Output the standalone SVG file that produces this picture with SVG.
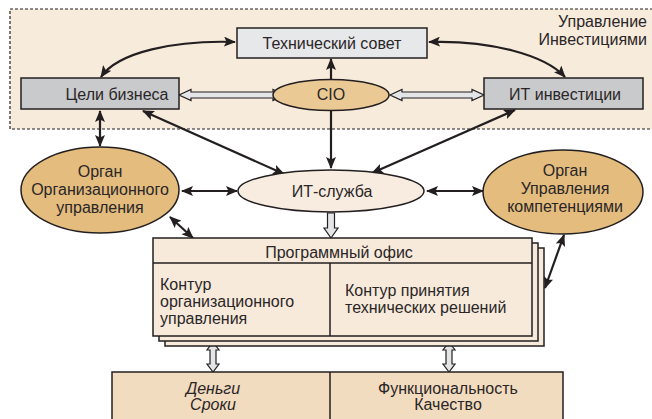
<svg xmlns="http://www.w3.org/2000/svg" width="652" height="419" viewBox="0 0 652 419">
<defs>
<style>
text{font-family:"Liberation Sans",Arial,sans-serif;font-size:16px;fill:#2a2627}
.c{text-anchor:middle}
.ln{fill:none;stroke:#231f20;stroke-width:2.2}
.ho{fill:#e4e5e7;stroke:#231f20;stroke-width:1.2;stroke-linejoin:miter}
.bx{stroke:#231f20;stroke-width:1.5}
</style>
<marker id="ah" viewBox="0 0 12 10" refX="11" refY="5" markerWidth="12" markerHeight="10" markerUnits="userSpaceOnUse" orient="auto-start-reverse">
<path d="M0,0 L12,5 L0,10 L2.5,5 z" fill="#231f20"/>
</marker>
</defs>
<rect width="652" height="419" fill="#fff"/>
<g id="zone">
<rect x="10" y="9" width="650" height="120" fill="#f7ebdc" stroke="#231f20" stroke-width="1.2" stroke-dasharray="3,2"/>
<text x="647" y="27" text-anchor="end">Управление</text>
<text x="647" y="45" text-anchor="end">Инвестициями</text>
</g>
<g id="connectors">
<path class="ln" d="M101,77 C118,52 175,40 235,42" marker-start="url(#ah)" marker-end="url(#ah)"/>
<path class="ln" d="M429,42 C490,40 545,55 565,77" marker-start="url(#ah)" marker-end="url(#ah)"/>
<path class="ln" d="M331,80 L331,59" marker-end="url(#ah)"/>
<path class="ln" d="M331,110 L331,168" marker-end="url(#ah)"/>
<path class="ln" d="M143,111 L284,174" marker-start="url(#ah)" marker-end="url(#ah)"/>
<path class="ln" d="M515,110 L372,173" marker-start="url(#ah)" marker-end="url(#ah)"/>
<path class="ln" d="M100,111 L100,146" marker-start="url(#ah)" marker-end="url(#ah)"/>
<path class="ln" d="M182,191 L237,191" marker-start="url(#ah)" marker-end="url(#ah)"/>
<path class="ln" d="M427,191 L483,191" marker-start="url(#ah)" marker-end="url(#ah)"/>
<path class="ln" d="M170,217 L193,238" marker-start="url(#ah)" marker-end="url(#ah)"/>
<path class="ln" d="M545,288 L564,235" marker-start="url(#ah)" marker-end="url(#ah)"/>
<polygon class="ho" points="179,95 191,89.5 191,92 273,92 273,89.5 285,95 273,100.5 273,98 191,98 191,100.5"/>
<polygon class="ho" points="390,95 402,89.5 402,92 472,92 472,89.5 484,95 472,100.5 472,98 402,98 402,100.5"/>
<polygon class="ho" points="327.5,213 334.5,213 334.5,228 338,228 331,238 324,228 327.5,228"/>
<polygon class="ho" points="213,342 219,350 216,350 216,364 219,364 213,372 207,364 210,364 210,350 207,350"/>
<polygon class="ho" points="449,342 455,350 452,350 452,364 455,364 449,372 443,364 446,364 446,350 443,350"/>
</g>
<g id="tech-council">
<rect class="bx" x="237" y="28" width="190" height="30" fill="#e7e8ea"/>
<text class="c" x="332" y="49">Технический совет</text>
</g>
<g id="business-goals">
<rect class="bx" x="21" y="78" width="158" height="31" fill="#c9cacc"/>
<text class="c" x="117" y="100">Цели бизнеса</text>
</g>
<g id="cio">
<ellipse class="bx" cx="331" cy="95" rx="58" ry="15.5" fill="#ebc994"/>
<text class="c" x="331" y="100">CIO</text>
</g>
<g id="it-investments">
<rect class="bx" x="484" y="78" width="159" height="31" fill="#c9cacc"/>
<text class="c" x="565" y="100">ИТ инвестиции</text>
</g>
<g id="org-body">
<ellipse class="bx" cx="100" cy="190" rx="79" ry="43" fill="#e3bc7e"/>
<text class="c" x="100" y="177">Орган</text>
<text class="c" x="100" y="195">Организационного</text>
<text class="c" x="100" y="213">управления</text>
</g>
<g id="it-service">
<ellipse class="bx" cx="331" cy="191" rx="93" ry="21" fill="#f7ecdf"/>
<text class="c" x="332" y="197">ИТ-служба</text>
</g>
<g id="competence-body">
<ellipse class="bx" cx="563" cy="192" rx="80" ry="42" fill="#e3bc7e"/>
<text class="c" x="565" y="176">Орган</text>
<text class="c" x="565" y="194">Управления</text>
<text class="c" x="565" y="212">компетенциями</text>
</g>
<g id="program-office">
<rect class="bx" x="165" y="248" width="379" height="98" fill="#f7eadb" stroke-width="1.3"/>
<rect class="bx" x="159" y="243" width="379" height="98" fill="#f7eadb" stroke-width="1.3"/>
<rect class="bx" x="153" y="238" width="379" height="98" fill="#f7eadb"/>
<line class="bx" x1="153" y1="263" x2="532" y2="263"/>
<line class="bx" x1="330" y1="263" x2="330" y2="336"/>
<text class="c" x="339" y="258">Программный офис</text>
<text x="160" y="290">Контур</text>
<text x="160" y="307">организационного</text>
<text x="160" y="324">управления</text>
<text x="345" y="296">Контур принятия</text>
<text x="345" y="313">технических решений</text>
</g>
<g id="results">
<rect class="bx" x="112" y="372" width="451" height="60" fill="#f2dcbf"/>
<line class="bx" x1="330" y1="372" x2="330" y2="419"/>
<text class="c" x="213" y="394" font-style="italic">Деньги</text>
<text class="c" x="213" y="410" font-style="italic">Сроки</text>
<text class="c" x="448" y="394">Функциональность</text>
<text class="c" x="448" y="410">Качество</text>
</g>
</svg>
